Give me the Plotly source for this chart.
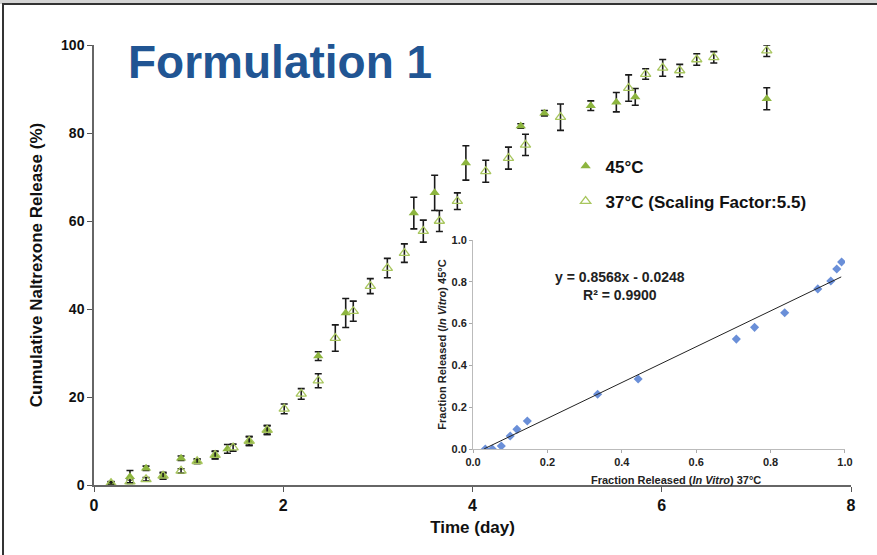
import plotly.graph_objects as go

# ---- Main chart data (Time in days, cumulative release %) ----
t45 = [0.18, 0.38, 0.55, 0.73, 0.92, 1.09, 1.28, 1.41, 1.64, 1.83, 2.37, 2.66,
       3.38, 3.60, 3.93, 4.51, 4.76, 5.25, 5.52, 5.72, 7.11]
r45 = [0.5, 1.9, 3.8, 2.1, 6.1, 5.4, 6.8, 8.2, 10.0, 12.5, 29.3, 39.1,
       61.8, 66.4, 73.2, 81.6, 84.5, 86.2, 87.0, 88.2, 87.8]
e45 = [0.3, 1.4, 0.5, 0.8, 0.5, 0.5, 0.9, 1.0, 1.0, 1.0, 1.0, 3.3,
       3.6, 4.0, 3.9, 0.5, 0.6, 1.1, 2.2, 1.9, 2.5]

t37 = [0.18, 0.38, 0.55, 0.73, 0.92, 1.09, 1.28, 1.47, 1.64, 1.83, 2.01, 2.19,
       2.37, 2.55, 2.74, 2.92, 3.10, 3.28, 3.48, 3.65, 3.84, 4.14, 4.38, 4.56,
       4.93, 5.65, 5.83, 6.01, 6.19, 6.37, 6.55, 7.11]
r37 = [0.4, 0.75, 1.3, 2.1, 3.2, 5.4, 6.8, 8.5, 10.0, 12.5, 17.3, 20.7,
       23.7, 33.4, 39.5, 45.2, 49.3, 52.7, 57.7, 60.0, 64.5, 71.3, 74.3, 77.3,
       83.6, 90.2, 93.4, 94.8, 94.2, 96.7, 97.2, 98.7]
e37 = [0.3, 0.4, 0.4, 0.6, 0.5, 0.5, 0.8, 0.8, 1.0, 1.0, 1.1, 1.2,
       1.6, 3.0, 2.3, 1.7, 2.2, 2.1, 2.5, 2.4, 1.9, 2.5, 2.5, 2.4,
       3.0, 3.0, 1.2, 1.9, 1.4, 1.3, 1.3, 1.3]

# ---- Inset data (fraction released 37°C vs 45°C) ----
f37 = [0.033, 0.052, 0.076, 0.100, 0.118, 0.146, 0.335, 0.444,
       0.708, 0.757, 0.838, 0.927, 0.962, 0.978, 0.991]
f45 = [0.0, 0.0, 0.014, 0.062, 0.094, 0.134, 0.262, 0.335,
       0.526, 0.582, 0.652, 0.766, 0.804, 0.861, 0.895]
slope, intercept = 0.8568, -0.0248
fit_x = [0.03, 0.99]

x_ticks = [0, 2, 4, 6, 8]
y_ticks = [0, 20, 40, 60, 80, 100]
inset_ticks = [0.0, 0.2, 0.4, 0.6, 0.8, 1.0]

GREEN = "#8db53f"
FONT = "Liberation Sans, Arial, sans-serif"

fig = go.Figure()

fig.add_trace(go.Scatter(
    x=t45, y=r45, mode="markers", name="45°C", legendgroup="a",
    marker=dict(symbol="triangle-up", size=9, color=GREEN, line=dict(width=0)),
    error_y=dict(type="data", array=e45, color="#1a1a1a", thickness=1.6, width=3.5),
    xaxis="x", yaxis="y"))
fig.add_trace(go.Scatter(
    x=t37, y=r37, mode="markers", name="37°C (Scaling Factor:5.5)", legendgroup="b",
    marker=dict(symbol="triangle-up-open", size=9, color="#a8c65e", line=dict(width=1.3)),
    error_y=dict(type="data", array=e37, color="#1a1a1a", thickness=1.6, width=3.5),
    xaxis="x", yaxis="y"))

fig.add_trace(go.Scatter(
    x=f37, y=f45, mode="markers", showlegend=False,
    marker=dict(symbol="diamond", size=7, color="#6a8fd8"),
    xaxis="x2", yaxis="y2"))
fig.add_trace(go.Scatter(
    x=fit_x, y=[slope * v + intercept for v in fit_x], mode="lines", showlegend=False,
    line=dict(color="#222222", width=1),
    xaxis="x2", yaxis="y2"))

fig.update_layout(
    width=877, height=555,
    margin=dict(l=94, r=26, t=45, b=70),
    paper_bgcolor="white", plot_bgcolor="rgba(0,0,0,0)",
    font=dict(family=FONT, color="#111111"),
    showlegend=True,
    legend=dict(x=0.623, y=0.765, xanchor="left", yanchor="top",
                font=dict(family=FONT, size=17, weight="bold", color="#111111"),
                tracegroupgap=10, bgcolor="rgba(0,0,0,0)", itemwidth=30),
    xaxis=dict(domain=[0, 1], range=[0, 8], tickvals=x_ticks, ticks="outside", ticklen=5,
               tickcolor="#555555", showline=True, linecolor="#666666", linewidth=1.5,
               showgrid=False, zeroline=False,
               tickfont=dict(family=FONT, size=16, weight="bold", color="#111111"),
               title=dict(text="Time (day)", standoff=8,
                          font=dict(family=FONT, size=17, weight="bold", color="#111111"))),
    yaxis=dict(domain=[0, 1], range=[0, 100], tickvals=y_ticks, ticks="outside", ticklen=5,
               tickcolor="#555555", showline=True, linecolor="#666666", linewidth=1.5,
               showgrid=False, zeroline=False,
               tickfont=dict(family=FONT, size=14, weight="bold", color="#111111"),
               title=dict(text="Cumulative Naltrexone Release (%)", standoff=14,
                          font=dict(family=FONT, size=17, weight="bold", color="#111111"))),
    xaxis2=dict(domain=[0.5007, 0.992], anchor="y2", range=[0, 1.0], tickvals=inset_ticks,
                tickformat=".1f", ticks="outside", ticklen=3, tickcolor="#aaaaaa",
                showline=True, linecolor="#bbbbbb", linewidth=1, showgrid=False, zeroline=False,
                tickfont=dict(family=FONT, size=11, weight="bold", color="#222222")),
    yaxis2=dict(domain=[0.0818, 0.5568], anchor="x2", range=[0, 1.0], tickvals=inset_ticks,
                tickformat=".1f", ticks="outside", ticklen=3, tickcolor="#aaaaaa",
                showline=True, linecolor="#bbbbbb", linewidth=1, showgrid=False, zeroline=False,
                tickfont=dict(family=FONT, size=11, weight="bold", color="#222222"),
                title=dict(text="Fraction Released (<i>In Vitro</i>) 45°C", standoff=2,
                           font=dict(family=FONT, size=11, weight="bold", color="#222222"))),
)

# Inset x-axis title
fig.add_annotation(text="Fraction Released (<i>In Vitro</i>) 37°C", xref="paper", yref="paper",
                   x=0.769, y=0.011, xanchor="center", yanchor="middle", showarrow=False,
                   font=dict(family=FONT, size=11, weight="bold", color="#222222"))
# Title
fig.add_annotation(text="Formulation 1", xref="paper", yref="paper",
                   x=0.2457, y=0.961, xanchor="center", yanchor="middle", showarrow=False,
                   font=dict(family=FONT, size=46, weight="bold", color="#215593"))
# Regression equation
fig.add_annotation(text=f"y = {slope:.4f}x - {abs(intercept):.4f}<br>R² = 0.9900",
                   xref="x2", yref="y2", x=0.395, y=0.78, xanchor="center", yanchor="middle",
                   showarrow=False, align="center",
                   font=dict(family=FONT, size=14, weight="bold", color="#222222"))

# Slide frame
fig.add_shape(type="rect", xref="paper", yref="paper", x0=-0.2, x1=1.2, y0=1.093, y1=1.2,
              fillcolor="#d4d4d4", line=dict(width=0), layer="below")
fig.add_shape(type="rect", xref="paper", yref="paper", x0=-0.1202, x1=1.2, y0=-0.3, y1=1.093,
              fillcolor="rgba(0,0,0,0)", line=dict(color="#333333", width=2))

fig.write_html("out.html")
